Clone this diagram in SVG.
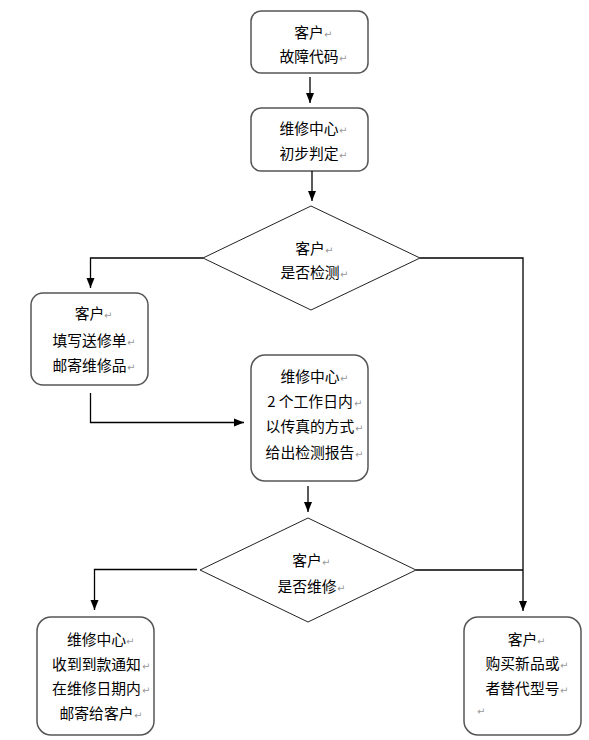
<svg xmlns="http://www.w3.org/2000/svg" width="589" height="740" viewBox="0 0 589 740">
<defs>
<marker id="arr" markerUnits="userSpaceOnUse" markerWidth="10" markerHeight="10" viewBox="0 0 10 10" refX="10" refY="5" orient="auto">
<path d="M0,1 L10,5 L0,9 Z" fill="#000"/>
</marker>
<style>
.box{fill:#fff;stroke:#555;stroke-width:1.5}
.dia{fill:#fff;stroke:#222;stroke-width:1}
.t{font-family:"Noto Sans CJK SC","Noto Sans",sans-serif;font-size:14.8px;fill:#000;text-anchor:middle}
.pm{font-family:"DejaVu Sans",sans-serif;font-size:10px;fill:#999}
.c{fill:none;stroke:#000;stroke-width:1.3}
</style>
</defs>
<rect width="589" height="740" fill="#fff"/>
<g id="n1">
<rect class="box" x="251" y="11" width="117" height="62" rx="10"/>
<text class="t" x="309" y="37.5">客户</text><text class="pm" x="324" y="37.5">↵</text>
<text class="t" x="309" y="61.5">故障代码</text><text class="pm" x="339" y="61.5">↵</text>
</g>
<g id="n2">
<rect class="box" x="251" y="108" width="117" height="63" rx="10"/>
<text class="t" x="309" y="133.5">维修中心</text><text class="pm" x="339" y="133.5">↵</text>
<text class="t" x="309" y="158.5">初步判定</text><text class="pm" x="339" y="158.5">↵</text>
</g>
<g id="d1">
<polygon class="dia" points="311,206 420,258 311,310 203,258"/>
<text class="t" x="310" y="253.5">客户</text><text class="pm" x="325" y="253.5">↵</text>
<text class="t" x="310" y="278">是否检测</text><text class="pm" x="340" y="278">↵</text>
</g>
<g id="n3">
<rect class="box" x="31" y="293" width="117" height="92" rx="12"/>
<text class="t" x="89.5" y="319">客户</text><text class="pm" x="104" y="319">↵</text>
<text class="t" x="89.5" y="345.5">填写送修单</text><text class="pm" x="127" y="345.5">↵</text>
<text class="t" x="89.5" y="370.5">邮寄维修品</text><text class="pm" x="127" y="370.5">↵</text>
</g>
<g id="n4">
<rect class="box" x="251" y="355" width="117" height="126" rx="14"/>
<text class="t" x="310" y="382">维修中心</text><text class="pm" x="340" y="382">↵</text>
<text class="t" x="310" y="407">2 个工作日内</text><text class="pm" x="354" y="407">↵</text>
<text class="t" x="310" y="432">以传真的方式</text><text class="pm" x="355" y="432">↵</text>
<text class="t" x="310" y="458">给出检测报告</text><text class="pm" x="355" y="458">↵</text>
</g>
<g id="d2">
<polygon class="dia" points="308,518 416,570 308,622 200,570"/>
<text class="t" x="307" y="565.5">客户</text><text class="pm" x="322" y="565.5">↵</text>
<text class="t" x="307" y="591.5">是否维修</text><text class="pm" x="337" y="591.5">↵</text>
</g>
<g id="n6">
<rect class="box" x="37" y="617" width="117" height="118" rx="14"/>
<text class="t" x="96.5" y="644.5">维修中心</text><text class="pm" x="126" y="644.5">↵</text>
<text class="t" x="96.5" y="669.5">收到到款通知</text><text class="pm" x="142" y="669.5">↵</text>
<text class="t" x="96.5" y="693.5">在维修日期内</text><text class="pm" x="142" y="693.5">↵</text>
<text class="t" x="96.5" y="718.5">邮寄给客户</text><text class="pm" x="134" y="718.5">↵</text>
</g>
<g id="n7">
<rect class="box" x="464" y="617" width="117" height="118" rx="14"/>
<text class="t" x="522.5" y="644.5">客户</text><text class="pm" x="537" y="644.5">↵</text>
<text class="t" x="522.5" y="668.5">购买新品或</text><text class="pm" x="560" y="668.5">↵</text>
<text class="t" x="522.5" y="693.5">者替代型号</text><text class="pm" x="560" y="693.5">↵</text>
<text class="pm" x="477" y="715">↵</text>
</g>
<g id="connectors">
<path class="c" d="M310,77 V103" marker-end="url(#arr)"/>
<path class="c" d="M312,171 V201" marker-end="url(#arr)"/>
<path class="c" d="M203,258 H90.5 V288" marker-end="url(#arr)"/>
<path class="c" d="M420,258 H523 V611" marker-end="url(#arr)"/>
<path class="c" d="M90.5,393 V422.5 H244" marker-end="url(#arr)"/>
<path class="c" d="M308,486 V512" marker-end="url(#arr)"/>
<path class="c" d="M197,569.5 H94.5 V610" marker-end="url(#arr)"/>
<path class="c" d="M416,570 H523"/>
</g>
</svg>
